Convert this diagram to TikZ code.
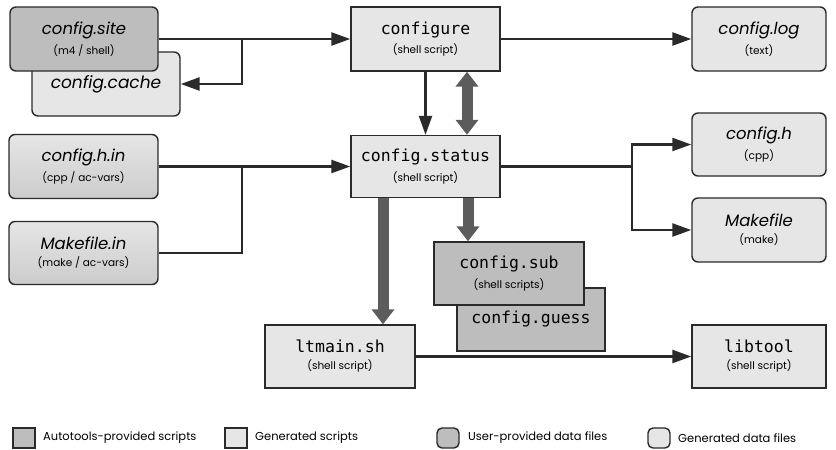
\documentclass[tikz,border=0pt]{standalone}
\usepackage{fontspec}
\setmainfont{Poppins}
\setmonofont{DejaVu Sans Mono}
\usetikzlibrary{arrows.meta}
\definecolor{darkfill}{HTML}{BDBDBD}
\definecolor{lightfill}{HTML}{E6E6E6}
\definecolor{linec}{HTML}{2A2A2A}
\definecolor{grayarrow}{HTML}{5C5C5C}
\newcommand{\lbl}[2]{{\fontsize{16.5}{19}\selectfont #1}\\[5pt]{\fontsize{10.5}{12}\selectfont #2}}
\tikzset{
  base/.style={draw=linec, line width=1.4pt, align=center, inner sep=0pt},
  script/.style={base, rectangle, fill=lightfill},
  autoscript/.style={base, rectangle, fill=darkfill},
  datafile/.style={base, rounded corners=6pt, fill=lightfill},
  userfile/.style={base, rounded corners=6pt, top color=gray!20, bottom color=gray!40},
  sitefile/.style={base, rounded corners=6pt, fill=darkfill},
  arr/.style={draw=linec, line width=2.4pt, -{Triangle[length=19pt,width=13pt]}},
  ln/.style={draw=linec, line width=2.4pt},
  garr/.style={draw=grayarrow, line width=11pt, -{Triangle[length=15pt,width=22pt]}},
  garr2/.style={draw=grayarrow, line width=11pt, {Triangle[length=15pt,width=22pt]}-{Triangle[length=15pt,width=22pt]}},
  legtext/.style={anchor=west, font=\fontsize{11.5}{13}\selectfont, inner sep=0pt},
}
\begin{document}
\begin{tikzpicture}[x=1pt,y=-1pt]
\useasboundingbox (0,0) rectangle (836,450);
% boxes
\node[datafile, minimum width=148, minimum height=64] (cache) at (106,84) {\raisebox{-2pt}{\fontsize{17}{19}\selectfont\itshape config.cache}};
\node[sitefile, minimum width=148, minimum height=64] (site) at (84,39) {\lbl{\itshape config.site}{(m4 / shell)}};
\node[script, minimum width=149, minimum height=64] (configure) at (425.5,39) {\lbl{\ttfamily configure}{(shell script)}};
\node[datafile, minimum width=134, minimum height=64] (log) at (759,39) {\lbl{\itshape config.log}{(text)}};
\node[script, minimum width=149, minimum height=62] (status) at (425.5,166.5) {\lbl{\ttfamily config.status}{(shell script)}};
\node[userfile, minimum width=149, minimum height=64] (hin) at (83.5,166.5) {\lbl{\itshape config.h.in}{(cpp / ac-vars)}};
\node[userfile, minimum width=149, minimum height=63] (mkin) at (83.5,253) {\lbl{\itshape Makefile.in}{(make / ac-vars)}};
\node[datafile, minimum width=134, minimum height=63] (configh) at (759,144.5) {\lbl{\itshape config.h}{(cpp)}};
\node[datafile, minimum width=134, minimum height=64] (makefile) at (759,230) {\lbl{\itshape Makefile}{(make)}};
\node[autoscript, minimum width=148, minimum height=63] (guess) at (531,319.5) {\raisebox{-1pt}{\fontsize{16.5}{19}\selectfont\ttfamily config.guess}};
\node[autoscript, minimum width=150, minimum height=63] (sub) at (509,273.5) {\lbl{\ttfamily config.sub}{(shell scripts)}};
\node[script, minimum width=150, minimum height=63] (ltmain) at (340,356.5) {\lbl{\ttfamily ltmain.sh}{(shell script)}};
\node[script, minimum width=134, minimum height=63] (libtool) at (759,356.5) {\lbl{\ttfamily libtool}{(shell script)}};
% connectors
\coordinate (b1) at (242,39);
\coordinate (b2) at (242,166.5);
\coordinate (b3) at (632,166.5);
\draw[arr] (site.east) -- (configure.west);
\draw[arr] (b1) |- (cache.east);
\draw[arr] (configure.east) -- (log.west);
\draw[arr] (configure.south) -- (status.north);
\draw[garr2] ([xshift=41.5pt]configure.south) -- ([xshift=41.5pt]status.north);
\draw[arr] (hin.east) -- (status.west);
\draw[ln] (mkin.east) -| (b2);
\draw[ln] (status.east) -- (b3);
\draw[arr] (b3) |- (configh.west);
\draw[arr] (b3) |- (makefile.west);
\draw[garr] ([xshift=42.5pt]status.south) -- ([xshift=-41pt]sub.north);
\draw[garr] ([xshift=-42.5pt]status.south) -- ([xshift=43pt]ltmain.north);
\draw[arr] (ltmain.east) -- (libtool.west);
% legend
\node[autoscript, minimum width=22, minimum height=20] (lg1) at (24,438) {};
\node[legtext] (lt1) at (43,438) {Autotools-provided scripts};
\node[script, minimum width=22, minimum height=20] (lg2) at (236,438) {};
\node[legtext] (lt2) at (255,438) {Generated scripts};
\node[sitefile, rounded corners=5pt, minimum width=22, minimum height=20] (lg3) at (448,438) {};
\node[legtext] (lt3) at (468,438) {User-provided data files};
\node[datafile, rounded corners=5pt, minimum width=22, minimum height=20] (lg4) at (659,438) {};
\node[legtext] (lt4) at (678,438) {Generated data files};
\end{tikzpicture}
\end{document}
